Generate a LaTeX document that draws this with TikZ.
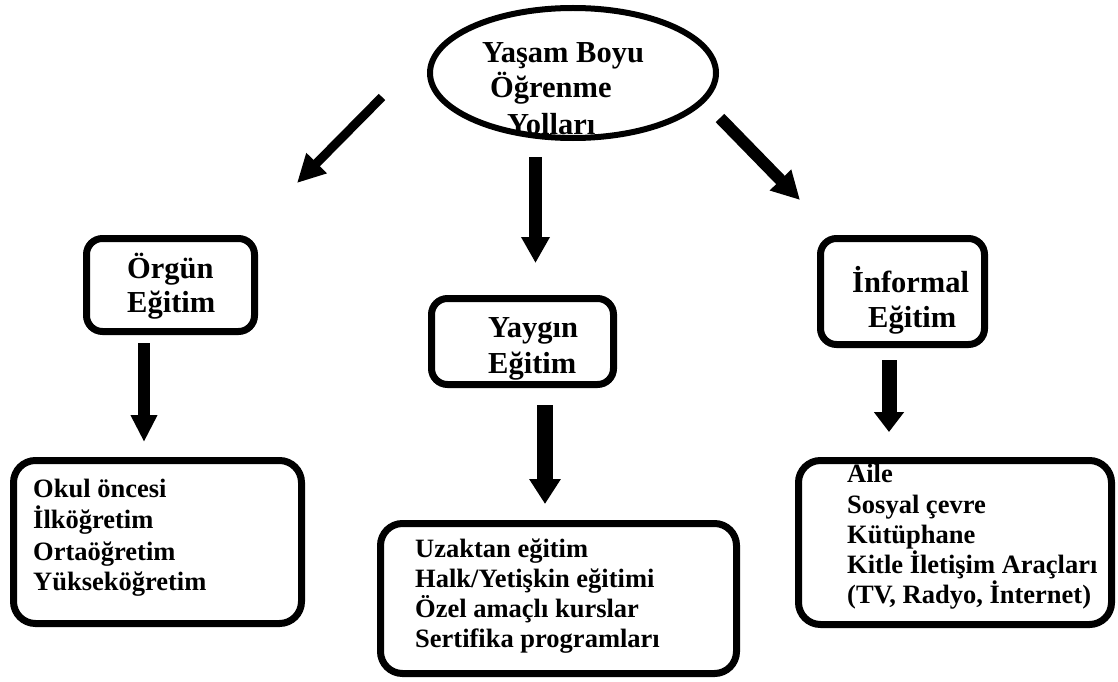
\documentclass[tikz,border=0pt]{standalone}
\usepackage{fontspec}
\setmainfont{Liberation Serif}
\usetikzlibrary{arrows.meta,shapes.geometric}
\begin{document}
\begin{tikzpicture}[x=1pt,y=-1pt,
  box/.style={draw, line width=7pt, inner sep=0pt},
  head/.style={font=\bfseries\fontsize{30.5}{36}\selectfont, inner sep=0pt, anchor=base west},
  item/.style={font=\bfseries\fontsize{26.5}{30}\selectfont, inner sep=0pt, anchor=base west},
  fat/.style={line cap=butt}]
\useasboundingbox (0,0) rectangle (1118,682);

% top ellipse
\begin{scope}
  \clip (573,73) ellipse [x radius=143pt, y radius=65pt];
  \node[head] (t1) at (482,63) {Yaşam Boyu};
  \node[head] (t2) at (490,98) {Öğrenme};
  \node[head] (t3) at (507,135) {Yolları};
\end{scope}
\node[draw, ellipse, line width=6pt, minimum width=286pt, minimum height=130pt, inner sep=0pt] (top) at (573,73) {};

% level 2 boxes
\node[box, rounded corners=16pt, minimum width=168pt, minimum height=93pt] (orgun) at (170.5,285) {};
\node[head] (o1) at (127,278) {Örgün};
\node[head] (o2) at (127,312) {Eğitim};

\node[box, rounded corners=16pt, minimum width=182pt, minimum height=86pt] (yaygin) at (522.5,341.5) {};
\node[head] (y1) at (488,337) {Yaygın};
\node[head] (y2) at (488,373) {Eğitim};

\node[box, rounded corners=16pt, minimum width=164pt, minimum height=106pt] (informal) at (902.5,291.5) {};
\node[head] (i1) at (852,292) {İnformal};
\node[head] (i2) at (868,327) {Eğitim};

% level 3 boxes
\node[box, rounded corners=22pt, minimum width=288pt, minimum height=163pt] (okul) at (157.5,542) {};
\node[item] (k1) at (33,497) {Okul öncesi};
\node[item] (k2) at (33,528) {İlköğretim};
\node[item] (k3) at (33,560) {Ortaöğretim};
\node[item] (k4) at (33,590) {Yükseköğretim};

\node[box, rounded corners=22pt, minimum width=356pt, minimum height=150pt] (uzak) at (558.5,598.5) {};
\node[item] (u1) at (415,557) {Uzaktan eğitim};
\node[item] (u2) at (415,587) {Halk/Yetişkin eğitimi};
\node[item] (u3) at (415,617) {Özel amaçlı kurslar};
\node[item] (u4) at (415,647) {Sertifika programları};

\node[box, rounded corners=22pt, minimum width=313pt, minimum height=164pt] (aile) at (955,542.5) {};
\node[item] (a1) at (847,482) {Aile};
\node[item] (a2) at (847,513) {Sosyal çevre};
\node[item] (a3) at (847,543) {Kütüphane};
\node[item] (a4) at (847,573) {Kitle İletişim Araçları};
\node[item] (a5) at (847,603) {(TV, Radyo, İnternet)};

% arrow end points
\coordinate (aL1) at (382,97);   \coordinate (aL2) at (297,183);
\coordinate (aM1) at (535.5,157); \coordinate (aM2) at (535.5,263);
\coordinate (aR1) at (720,118);  \coordinate (aR2) at (800,200);
\coordinate (aO1) at (144,343);  \coordinate (aO2) at (144,442);
\coordinate (aY1) at (545,405);  \coordinate (aY2) at (545,504);
\coordinate (aI1) at (889,360);  \coordinate (aI2) at (889,432);

\draw[fat, line width=9pt, -{Triangle[length=28pt,width=27pt]}] (aL1) -- (aL2);
\draw[fat, line width=13pt, -{Triangle[length=26pt,width=27pt]}] (aM1) -- (aM2);
\draw[fat, line width=12pt, -{Triangle[length=28pt,width=28pt]}] (aR1) -- (aR2);
\draw[fat, line width=12pt, -{Triangle[length=27pt,width=25pt]}] (aO1) -- (aO2);
\draw[fat, line width=16pt, -{Triangle[length=25pt,width=30pt]}] (aY1) -- (aY2);
\draw[fat, line width=15pt, -{Triangle[length=20pt,width=29pt]}] (aI1) -- (aI2);
\end{tikzpicture}
\end{document}
